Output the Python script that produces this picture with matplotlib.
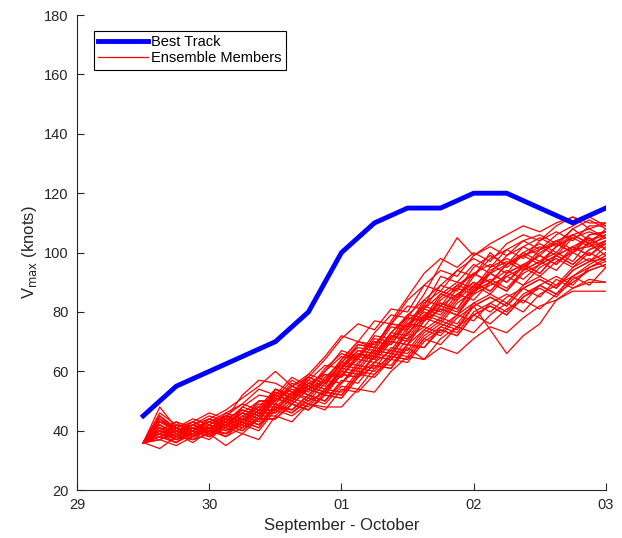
import matplotlib
matplotlib.use("Agg")
import matplotlib.pyplot as plt
import numpy as np

plt.rcParams["font.family"] = ["Liberation Sans", "DejaVu Sans"]

# hours since 29 Sep 00Z
best_hours = [12, 18, 24, 30, 36, 42, 48, 54, 60, 66, 72, 78, 84, 90, 96]
best_vmax = [45, 55, 60, 65, 70, 80, 100, 110, 115, 115, 120, 120, 115, 110, 115]

# ensemble output every 3 h, 29/12Z to 03/00Z
ens_hours = list(range(12, 97, 3))
ens_members = [
    [36, 44, 39, 42, 40, 45, 43, 49, 49, 55, 52, 58, 63, 62, 70, 69, 77, 82, 80, 88, 93, 90, 96, 99, 96, 102, 105, 102, 106],
    [36, 38, 40, 37, 41, 39, 44, 42, 48, 47, 52, 50, 56, 61, 60, 66, 65, 72, 76, 74, 82, 85, 82, 88, 91, 88, 94, 97, 98],
    [36, 48, 41, 43, 40, 46, 49, 54, 52, 58, 55, 60, 65, 64, 71, 70, 78, 77, 84, 88, 86, 93, 96, 100, 97, 102, 106, 103, 108],
    [36, 40, 37, 41, 39, 42, 46, 44, 52, 50, 55, 53, 61, 66, 64, 72, 70, 78, 83, 81, 89, 93, 90, 96, 99, 96, 101, 102, 104],
    [36, 37, 39, 36, 40, 38, 41, 44, 44, 49, 47, 52, 51, 58, 62, 61, 68, 64, 68, 66, 71, 75, 73, 78, 82, 84, 88, 90, 90],
    [36, 42, 38, 40, 44, 42, 47, 45, 53, 51, 57, 55, 63, 68, 67, 75, 74, 83, 87, 85, 93, 96, 93, 100, 103, 100, 106, 108, 110],
    [36, 39, 36, 40, 38, 43, 41, 46, 46, 51, 49, 54, 60, 59, 65, 64, 71, 75, 73, 79, 83, 80, 85, 88, 85, 91, 88, 91, 90],
    [36, 43, 40, 38, 42, 45, 43, 50, 50, 56, 54, 60, 67, 65, 73, 79, 78, 86, 96, 105, 99, 103, 106, 109, 107, 110, 112, 108, 105],
    [36, 41, 38, 42, 40, 44, 42, 47, 47, 52, 55, 53, 60, 65, 64, 71, 76, 75, 82, 86, 84, 90, 94, 91, 96, 99, 96, 101, 103],
    [36, 34, 38, 37, 39, 35, 39, 37, 45, 43, 49, 47, 54, 53, 59, 64, 63, 70, 74, 72, 79, 82, 79, 85, 89, 86, 92, 96, 99],
    [36, 45, 40, 42, 44, 41, 48, 52, 51, 57, 54, 61, 66, 64, 72, 71, 79, 84, 82, 89, 93, 90, 96, 99, 101, 103, 100, 106, 107],
    [36, 39, 41, 38, 40, 43, 41, 46, 46, 51, 54, 52, 59, 58, 66, 65, 73, 78, 76, 83, 87, 93, 90, 95, 99, 96, 102, 105, 101],
    [36, 42, 39, 43, 41, 44, 47, 45, 54, 51, 58, 64, 71, 76, 74, 81, 80, 89, 94, 92, 99, 102, 99, 104, 106, 103, 108, 104, 107],
    [36, 40, 37, 39, 42, 40, 43, 47, 47, 53, 50, 56, 61, 60, 67, 66, 74, 79, 77, 84, 89, 86, 92, 95, 92, 97, 100, 97, 102],
    [36, 38, 40, 37, 39, 42, 40, 44, 44, 49, 47, 52, 51, 58, 62, 61, 69, 74, 72, 78, 82, 74, 66, 72, 76, 84, 87, 87, 87],
    [36, 44, 41, 39, 43, 46, 44, 50, 50, 55, 58, 56, 63, 69, 68, 76, 82, 81, 89, 94, 92, 98, 101, 98, 104, 107, 104, 109, 109],
    [36, 39, 42, 40, 38, 43, 46, 44, 51, 49, 54, 57, 56, 63, 67, 66, 73, 78, 82, 80, 87, 90, 87, 93, 96, 99, 96, 101, 104],
    [36, 37, 35, 38, 40, 39, 42, 40, 47, 45, 49, 48, 48, 54, 53, 60, 65, 64, 71, 75, 73, 79, 83, 80, 86, 89, 92, 89, 95],
    [36, 41, 38, 42, 45, 43, 48, 46, 53, 51, 56, 59, 58, 66, 65, 73, 78, 77, 85, 89, 87, 94, 97, 94, 100, 103, 100, 105, 101],
    [36, 46, 42, 40, 44, 47, 51, 55, 60, 55, 59, 57, 64, 70, 69, 76, 75, 84, 89, 87, 95, 99, 96, 102, 105, 102, 108, 111, 108],
    [36, 38, 36, 40, 38, 41, 39, 44, 44, 49, 47, 53, 52, 59, 63, 62, 69, 68, 75, 79, 77, 83, 86, 83, 89, 92, 89, 95, 97],
    [36, 40, 43, 38, 41, 44, 42, 47, 47, 52, 56, 54, 61, 66, 65, 72, 71, 79, 83, 81, 88, 91, 88, 94, 97, 94, 100, 103, 105],
    [36, 42, 39, 41, 43, 45, 43, 48, 54, 52, 59, 65, 72, 70, 77, 76, 84, 89, 87, 94, 98, 95, 101, 104, 101, 106, 109, 112, 109],
    [36, 37, 40, 38, 41, 38, 43, 41, 48, 46, 51, 49, 55, 54, 61, 65, 64, 71, 75, 73, 80, 83, 80, 86, 89, 86, 92, 95, 98],
    [36, 43, 40, 42, 39, 44, 47, 45, 52, 50, 56, 54, 61, 67, 66, 73, 72, 81, 86, 84, 92, 100, 95, 99, 102, 99, 105, 107, 105],
    [36, 39, 37, 39, 42, 40, 44, 42, 49, 47, 52, 50, 57, 56, 63, 67, 66, 73, 77, 75, 82, 85, 82, 88, 91, 88, 94, 97, 100],
    [36, 41, 38, 40, 43, 41, 45, 48, 48, 53, 51, 57, 62, 61, 68, 67, 75, 80, 78, 85, 90, 87, 93, 96, 93, 99, 102, 99, 103],
    [36, 38, 41, 39, 37, 42, 40, 45, 45, 50, 48, 54, 53, 60, 59, 65, 64, 71, 69, 75, 79, 76, 81, 84, 81, 86, 90, 94, 96],
    [36, 44, 40, 43, 46, 44, 52, 57, 56, 53, 58, 56, 62, 67, 66, 73, 79, 78, 86, 90, 88, 95, 98, 95, 101, 104, 101, 106, 107],
    [36, 40, 38, 41, 39, 43, 46, 44, 50, 54, 52, 57, 64, 70, 68, 77, 85, 93, 98, 95, 100, 97, 103, 106, 104, 109, 112, 110, 110],
    [36, 45, 41, 38, 42, 40, 45, 43, 51, 49, 54, 52, 59, 64, 63, 70, 69, 77, 81, 79, 86, 89, 92, 89, 95, 98, 95, 100, 97],
    [36, 39, 42, 40, 43, 41, 46, 50, 50, 55, 53, 59, 58, 65, 70, 69, 76, 81, 79, 86, 90, 87, 93, 96, 93, 99, 102, 99, 104],
    [36, 41, 37, 40, 38, 42, 44, 42, 49, 47, 52, 50, 56, 62, 61, 68, 67, 74, 78, 76, 83, 86, 83, 89, 92, 89, 95, 98, 95],
    [36, 43, 41, 44, 42, 45, 49, 47, 54, 52, 57, 62, 61, 69, 68, 76, 75, 82, 92, 90, 96, 93, 99, 102, 99, 104, 106, 103, 99],
    [36, 38, 36, 39, 41, 39, 43, 41, 48, 46, 50, 53, 52, 59, 58, 64, 69, 68, 74, 72, 79, 82, 79, 85, 88, 85, 91, 94, 96],
    [36, 40, 43, 41, 39, 44, 42, 47, 52, 50, 55, 53, 59, 58, 65, 70, 69, 77, 81, 79, 87, 90, 87, 94, 97, 100, 97, 104, 106],
]

day_ticks = [0, 1, 2, 3, 4]
day_labels = ["29", "30", "01", "02", "03"]

fig = plt.figure(figsize=(6.22, 5.38), dpi=100)
ax = fig.add_axes([0.124, 0.089, 0.850, 0.883])

ens_x = np.array(ens_hours) / 24.0
for i, member in enumerate(ens_members):
    ax.plot(ens_x, member, color="red", linewidth=0.9,
            label="Ensemble Members" if i == 0 else None, zorder=2)

ax.plot(np.array(best_hours) / 24.0, best_vmax, color="blue", linewidth=3.5,
        label="Best Track", zorder=3)

ax.set_xlim(0, 4)
ax.set_ylim(20, 180)
ax.set_xticks(day_ticks)
ax.set_xticklabels(day_labels)
ax.set_yticks(range(20, 181, 20))

for side in ["top", "right"]:
    ax.spines[side].set_visible(False)
for side in ["left", "bottom"]:
    ax.spines[side].set_color("#262626")
    ax.spines[side].set_linewidth(0.8)
ax.tick_params(direction="in", length=5, width=0.8, colors="#262626",
               labelsize=10.5, pad=6)

ax.set_xlabel("September - October", fontsize=12, color="#262626")
ax.set_ylabel("V$_{\\mathrm{max}}$ (knots)", fontsize=12, color="#262626")

handles, labels = ax.get_legend_handles_labels()
leg = ax.legend(handles[::-1], labels[::-1], loc="upper left", fontsize=10.5,
                fancybox=False, edgecolor="black", framealpha=1,
                bbox_to_anchor=(0.018, 0.982), handlelength=3.4,
                borderpad=0.3, labelspacing=0.15, handletextpad=0.2)
leg.get_frame().set_linewidth(0.8)

plt.savefig("out.png", dpi=100)
plt.close()
